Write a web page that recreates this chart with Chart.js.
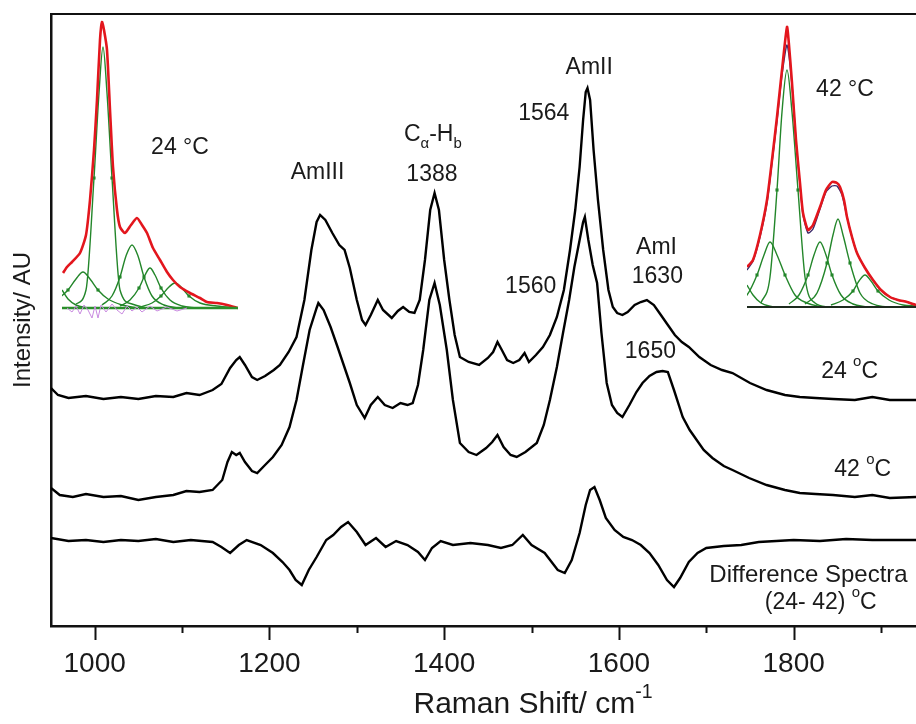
<!DOCTYPE html>
<html>
<head>
<meta charset="utf-8">
<script src="https://cdn.jsdelivr.net/npm/chart.js@4.4.0/dist/chart.umd.min.js"></script>
<style>
html, body { margin: 0; padding: 0; background: #fff; }
#wrap { position: relative; width: 916px; height: 724px; }
#wrap canvas { position: absolute; }
</style>
</head>
<body>
<div id="wrap">
  <canvas id="main" width="916" height="724" style="left:0;top:0"></canvas>
  <canvas id="inset24" width="176" height="300" style="left:62px;top:18px"></canvas>
  <canvas id="inset42" width="169" height="300" style="left:747px;top:18px"></canvas>
</div>
<script>
// Raman spectra (offset, arbitrary units)
const wn24 = [950,958,970,990,1010,1030,1050,1070,1090,1105,1120,1135,1145,1155,1162,1166,1172,1180,1186,1195,1205,1212,1222,1231,1240,1248,1254,1258,1264,1272,1280,1286,1292,1300,1306,1310,1316,1324,1330,1340,1347,1353,1360,1366,1372,1378,1384,1389,1394,1400,1406,1412,1418,1428,1440,1450,1456,1461,1466,1472,1479,1486,1492,1497,1505,1513,1521,1529,1537,1544,1550,1555,1559,1562,1564,1567,1571,1576,1582,1588,1593,1598,1604,1610,1618,1625,1632,1640,1648,1656,1664,1672,1680,1692,1705,1718,1730,1750,1769,1790,1807,1825,1845,1870,1890,1910,1940];
const int24 = [238,231,228,230,227,229,227,230,229,233,231,236,242,258,266,269,261,249,246,250,256,261,274,289,326,376,404,411,406,393,381,376,358,326,306,301,311,326,316,308,315,319,314,313,326,366,416,433,416,366,326,291,269,264,261,268,274,284,276,266,263,266,273,264,271,279,291,309,336,376,416,459,506,534,538,526,476,426,376,336,319,313,311,314,321,324,326,321,311,301,291,284,279,269,261,256,253,243,236,231,229,228,227,226,229,226,226];

const wn42 = [950,960,975,990,1010,1030,1050,1070,1090,1105,1120,1135,1146,1152,1157,1162,1166,1172,1180,1186,1195,1204,1214,1223,1231,1238,1246,1254,1256,1262,1270,1278,1285,1292,1300,1309,1316,1324,1332,1341,1350,1358,1364,1370,1376,1383,1389,1395,1403,1410,1418,1428,1437,1448,1455,1461,1468,1476,1483,1493,1506,1514,1521,1529,1536,1543,1549,1555,1559,1561,1565,1570,1575,1580,1586,1592,1598,1604,1612,1620,1627,1635,1643,1650,1656,1663,1673,1681,1689,1697,1707,1720,1730,1749,1769,1790,1807,1825,1845,1870,1890,1910,1940];
const int42 = [138,131,129,132,129,130,126,129,131,135,134,136,146,164,174,171,173,164,155,153,161,169,181,199,226,259,296,318,323,316,299,279,261,243,221,208,221,229,221,218,223,221,223,241,276,326,343,321,276,226,183,174,171,178,184,191,179,171,169,174,183,201,226,259,293,326,359,386,404,409,386,361,343,293,243,221,213,209,221,234,243,250,254,255,254,236,209,196,186,176,168,160,156,148,141,136,133,132,131,129,131,128,129];

const wnDiff = [950,970,990,1010,1030,1050,1070,1090,1110,1135,1145,1155,1165,1174,1190,1204,1215,1223,1230,1237,1245,1254,1265,1273,1282,1290,1300,1310,1322,1333,1345,1358,1370,1378,1386,1396,1410,1430,1450,1465,1478,1490,1500,1515,1530,1538,1546,1555,1562,1567,1572,1578,1585,1595,1605,1615,1625,1635,1645,1655,1663,1670,1680,1690,1700,1720,1740,1760,1780,1800,1830,1860,1890,1940];
const intDiff = [88,85,86,84,86,85,87,84,86,84,79,73,81,86,81,73,64,56,46,41,56,69,86,91,99,104,94,81,88,79,85,81,74,66,78,85,81,83,81,78,81,91,81,73,56,53,66,93,121,136,139,126,108,96,89,86,81,73,61,46,39,48,64,73,78,80,81,84,85,86,85,87,86,86];

const tickVals = [1000, 1100, 1200, 1300, 1400, 1500, 1600, 1700, 1800, 1900];
const majorTicks = [1000, 1200, 1400, 1600, 1800];

// insets: band fitting, arbitrary channel / intensity
const raw24X = [1,5,10,18,24,28,32,35,38,40,42,45,48,51,55,58,63,69,75,80,85,91,98,105,111,118,128,138,145,155,165,176];
const raw24Y = [35,41,46,55,73,108,158,208,268,286,278,258,198,141,98,81,75,83,90,83,75,60,48,36,28,21,15,10,6,5,3,0];
const comp24 = [
  [[0,18],[6,9],[14,3],[26,0]],
  [[-20,3],[-5,9],[6,18],[14,29],[21,36],[28,29],[36,18],[46,9],[60,3],[76,0]],
  [[14,4],[24,18],[32,130],[37,215],[41,261],[45,215],[50,130],[58,18],[70,4],[84,0]],
  [[40,3],[50,12],[58,31],[64,52],[70,63],[76,52],[82,31],[90,12],[102,3],[116,0]],
  [[58,2],[68,8],[77,20],[83,33],[88,40],[93,33],[99,20],[108,8],[120,2],[134,0]],
  [[78,1],[90,5],[99,12],[107,21],[113,25],[119,21],[127,12],[138,5],[155,2],[176,0]]
];
const resid24X = [5,10,14,18,22,26,30,33,36,39,44,50,55,60,65,70,75,80,88,95,105,115,125];
const resid24Y = [0,-4,2,-6,3,-2,-10,2,-10,3,-4,4,-2,-6,2,-3,1,-4,2,-3,1,-3,0];

const raw42X = [0,6,13,20,25,30,35,40,42,45,49,53,56,61,66,73,79,85,90,93,97,100,105,110,118,126,134,143,151,160,169];
const raw42Y = [40,47,72,107,147,190,237,280,262,224,167,124,94,77,82,100,117,125,124,120,107,90,70,54,39,27,17,10,7,5,2];
const fit42X = [0,6,13,20,25,30,35,40,45,49,53,56,61,66,73,79,85,90,95,100,105,110,118,126,134,143,151,160,169];
const fit42Y = [37,46,70,104,144,186,232,262,222,166,122,92,74,78,98,115,121,121,112,90,70,54,39,27,17,10,7,5,2];
const comp42 = [
  [[0,22],[6,12],[14,4],[26,0]],
  [[-12,4],[0,12],[10,32],[17,52],[23,65],[30,52],[38,32],[48,12],[60,4],[75,0]],
  [[14,4],[23,30],[30,117],[35,195],[40,237],[45,195],[51,117],[58,30],[68,4],[82,0]],
  [[42,3],[52,12],[61,32],[67,52],[73,65],[79,52],[85,32],[94,12],[106,3],[120,0]],
  [[58,3],[70,14],[80,44],[86,72],[91,88],[96,72],[103,44],[113,14],[126,3],[140,0]],
  [[84,2],[96,7],[106,16],[112,26],[118,32],[124,26],[131,16],[142,7],[156,2],[169,1]]
];

// peak labels, placed in data coordinates
const notes = [
  {x: 1255, y: 453, parts: [['AmIII']]},
  {x: 1387, y: 491, parts: [['C'], ['\u03b1', 'sub'], ['-H'], ['b', 'sub']]},
  {x: 1386, y: 451, parts: [['1388']]},
  {x: 1566, y: 558, parts: [['AmII']]},
  {x: 1514, y: 512, parts: [['1564']]},
  {x: 1499, y: 339, parts: [['1560']]},
  {x: 1643, y: 378, parts: [['AmI']]},
  {x: 1644, y: 349, parts: [['1630']]},
  {x: 1636, y: 274, parts: [['1650']]},
  {x: 1864, y: 254, parts: [['24 '], ['o', 'sup'], ['C']]},
  {x: 1879, y: 156, parts: [['42 '], ['o', 'sup'], ['C']]},
  {x: 1817, y: 51, parts: [['Difference Spectra']], size: 24},
  {x: 1831, y: 23, parts: [['(24- 42) '], ['o', 'sup'], ['C']]}
];

const FONT = 'Arial, "Liberation Sans", sans-serif';

function pts(xs, ys) {
  return xs.map((x, i) => ({x: x, y: ys[i]}));
}

function drawRich(ctx, parts, cx, cy, size, color) {
  ctx.fillStyle = color || '#1a1a1a';
  ctx.textBaseline = 'middle';
  ctx.textAlign = 'left';
  let w = 0;
  const items = parts.map(p => {
    const s = p[1] ? size * 0.65 : size;
    ctx.font = s + 'px ' + FONT;
    const iw = ctx.measureText(p[0]).width;
    w += iw;
    return {t: p[0], mode: p[1], s: s, w: iw};
  });
  let x = cx - w / 2;
  items.forEach(it => {
    ctx.font = it.s + 'px ' + FONT;
    let dy = 0;
    if (it.mode === 'sup') dy = -size * 0.42;
    if (it.mode === 'sub') dy = size * 0.38;
    ctx.fillText(it.t, x, cy + dy);
    x += it.w;
  });
}

const frame = {
  id: 'frame',
  afterDraw(chart) {
    const {ctx, chartArea: a, scales} = chart;
    const xs = scales.x, ys = scales.y;
    ctx.save();
    ctx.strokeStyle = '#111';
    ctx.lineWidth = 2;
    ctx.beginPath();
    ctx.moveTo(a.left - 1, a.top);
    ctx.lineTo(a.right, a.top);
    ctx.stroke();
    xs.ticks.forEach(t => {
      const px = Math.round(xs.getPixelForValue(t.value)) + 0.5;
      const len = majorTicks.includes(t.value) ? 14 : 7;
      ctx.beginPath();
      ctx.moveTo(px, a.bottom);
      ctx.lineTo(px, a.bottom + len);
      ctx.stroke();
    });
    notes.forEach(n => {
      drawRich(ctx, n.parts, xs.getPixelForValue(n.x), ys.getPixelForValue(n.y), n.size || 23);
    });
    // axis titles
    drawRich(ctx, [['Raman Shift/ cm'], ['-1', 'sup']], 533, 705, 30);
    ctx.translate(23, (a.top + a.bottom) / 2);
    ctx.rotate(-Math.PI / 2);
    drawRich(ctx, [['Intensity/ AU']], 0, 0, 24);
    ctx.restore();
  }
};

const specLine = {
  borderColor: '#000',
  borderWidth: 2.4,
  pointRadius: 0,
  tension: 0,
  fill: false
};

new Chart(document.getElementById('main'), {
  type: 'line',
  data: {
    datasets: [
      Object.assign({label: '24 C', data: pts(wn24, int24)}, specLine),
      Object.assign({label: '42 C', data: pts(wn42, int42)}, specLine),
      Object.assign({label: 'Difference', data: pts(wnDiff, intDiff)}, specLine)
    ]
  },
  options: {
    responsive: false,
    animation: false,
    devicePixelRatio: 1,
    layout: {padding: {top: 14, right: 0, left: 0, bottom: 0}},
    plugins: {legend: {display: false}, tooltip: {enabled: false}},
    scales: {
      x: {
        type: 'linear',
        min: 950,
        max: 1940,
        grid: {display: false, drawTicks: false},
        border: {display: true, color: '#111', width: 2.5},
        afterBuildTicks: s => { s.ticks = tickVals.map(v => ({value: v})); },
        ticks: {
          autoSkip: false,
          maxRotation: 0,
          padding: 21,
          color: '#1a1a1a',
          font: {family: FONT, size: 28},
          callback: v => majorTicks.includes(v) ? String(v) : ''
        },
        afterFit: s => { s.height = 98; }
      },
      y: {
        min: 0,
        max: 612,
        grid: {display: false, drawTicks: false},
        border: {display: true, color: '#111', width: 2.5},
        ticks: {display: false},
        afterFit: s => { s.width = 51; }
      }
    }
  },
  plugins: [frame]
});

// inset charts
function insetChart(id, maxX, minY, maxY, sets, label, lx, ly) {
  const tag = {
    id: 'tag',
    afterDraw(chart) {
      const {ctx, scales} = chart;
      ctx.save();
      drawRich(ctx, [[label]], scales.x.getPixelForValue(lx), scales.y.getPixelForValue(ly), 23);
      ctx.restore();
    }
  };
  new Chart(document.getElementById(id), {
    type: 'line',
    data: {datasets: sets},
    options: {
      responsive: false,
      animation: false,
      devicePixelRatio: 1,
      layout: {padding: 0},
      plugins: {legend: {display: false}, tooltip: {enabled: false}},
      scales: {
        x: {type: 'linear', display: false, min: 0, max: maxX},
        y: {display: false, min: minY, max: maxY}
      }
    },
    plugins: [tag]
  });
}

function compSets(list) {
  return list.map(c => ({
    data: c.map(p => ({x: p[0], y: p[1]})),
    borderColor: '#23862a',
    borderWidth: 1.4,
    cubicInterpolationMode: 'monotone',
    pointStyle: 'rect',
    pointRadius: ctx => (c.length === 10 && (ctx.dataIndex === 2 || ctx.dataIndex === 6)) ? 2.2 : 0,
    pointBackgroundColor: '#23862a',
    pointBorderWidth: 0
  }));
}

function baseline(maxX, color, w) {
  return {data: [{x: 0, y: 0}, {x: maxX, y: 0}], borderColor: color, borderWidth: w, pointRadius: 0};
}

insetChart('inset24', 176, -10, 290, [
  {data: pts(resid24X, resid24Y), borderColor: '#c98ae0', borderWidth: 1, pointRadius: 0, tension: 0},
  baseline(176, '#2a8f2a', 2.5),
  {data: pts(raw24X, raw24Y), borderColor: '#e3161d', borderWidth: 2.6, pointRadius: 0, tension: 0.2},
  ...compSets(comp24)
], '24 \u00b0C', 118, 160);

insetChart('inset42', 169, -11, 289, [
  baseline(169, '#1d2a1d', 2),
  {data: pts(raw42X, raw42Y), borderColor: '#e3161d', borderWidth: 2.6, pointRadius: 0, tension: 0.2},
  {data: pts(fit42X, fit42Y), borderColor: '#3a2a6a', borderWidth: 1.4, pointRadius: 0, tension: 0.2},
  ...compSets(comp42)
], '42 \u00b0C', 98, 217);
</script>
</body>
</html>
